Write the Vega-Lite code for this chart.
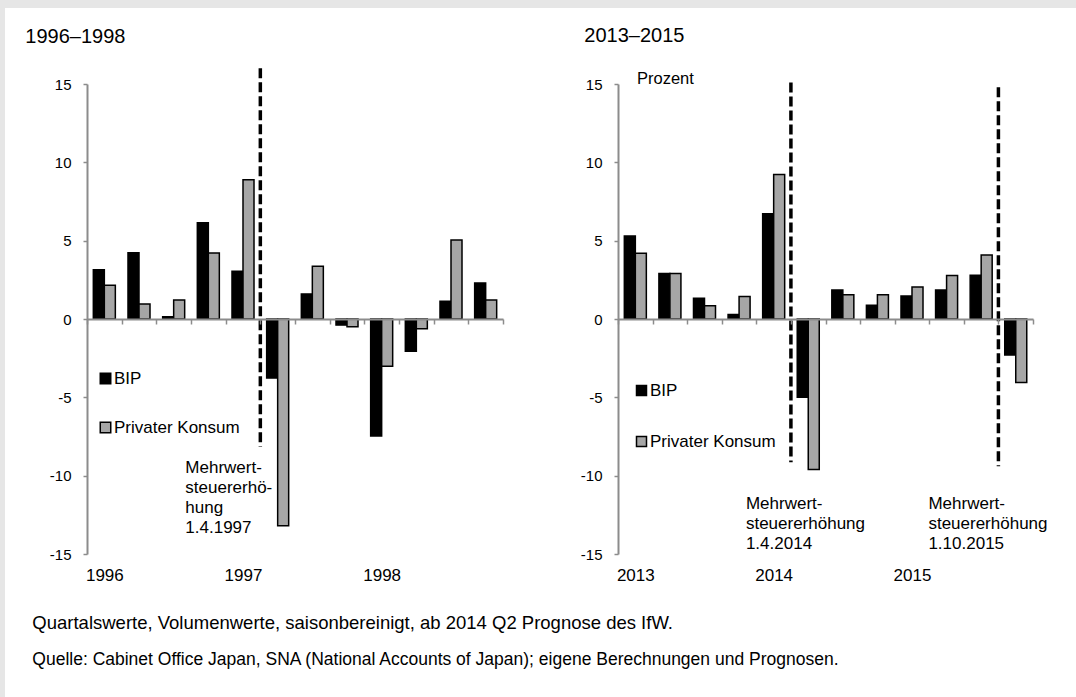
{
  "$schema": "https://vega.github.io/schema/vega-lite/v6.json",
  "padding": 0,
  "background": "#ffffff",
  "spacing": 0,
  "config": {
    "font": "Liberation Sans",
    "locale": {"number": {"decimal": ".", "thousands": ",", "grouping": [3], "currency": ["$", ""], "minus": "-"}},
    "view": {"stroke": null},
    "axis": {"grid": false, "title": null, "labelColor": "#000000", "labelFont": "Liberation Sans"},
    "title": {"color": "#000000", "fontWeight": "normal", "font": "Liberation Sans"},
    "text": {"color": "#000000"},
    "legend": {"labelColor": "#000000", "labelFont": "Liberation Sans"}
  },
  "datasets": {
    "bars96": [
      {"q": "1996 Q1", "s": "BIP", "v": 3.15}, {"q": "1996 Q1", "s": "Privater Konsum", "v": 2.15},
      {"q": "1996 Q2", "s": "BIP", "v": 4.23}, {"q": "1996 Q2", "s": "Privater Konsum", "v": 0.96},
      {"q": "1996 Q3", "s": "BIP", "v": 0.15}, {"q": "1996 Q3", "s": "Privater Konsum", "v": 1.21},
      {"q": "1996 Q4", "s": "BIP", "v": 6.15}, {"q": "1996 Q4", "s": "Privater Konsum", "v": 4.21},
      {"q": "1997 Q1", "s": "BIP", "v": 3.04}, {"q": "1997 Q1", "s": "Privater Konsum", "v": 8.89},
      {"q": "1997 Q2", "s": "BIP", "v": -3.77}, {"q": "1997 Q2", "s": "Privater Konsum", "v": -13.2},
      {"q": "1997 Q3", "s": "BIP", "v": 1.6}, {"q": "1997 Q3", "s": "Privater Konsum", "v": 3.36},
      {"q": "1997 Q4", "s": "BIP", "v": -0.39}, {"q": "1997 Q4", "s": "Privater Konsum", "v": -0.5},
      {"q": "1998 Q1", "s": "BIP", "v": -7.47}, {"q": "1998 Q1", "s": "Privater Konsum", "v": -3.02},
      {"q": "1998 Q2", "s": "BIP", "v": -2.06}, {"q": "1998 Q2", "s": "Privater Konsum", "v": -0.62},
      {"q": "1998 Q3", "s": "BIP", "v": 1.13}, {"q": "1998 Q3", "s": "Privater Konsum", "v": 5.04},
      {"q": "1998 Q4", "s": "BIP", "v": 2.3}, {"q": "1998 Q4", "s": "Privater Konsum", "v": 1.21}
    ],
    "bars13": [
      {"q": "2013 Q1", "s": "BIP", "v": 5.3}, {"q": "2013 Q1", "s": "Privater Konsum", "v": 4.2},
      {"q": "2013 Q2", "s": "BIP", "v": 2.9}, {"q": "2013 Q2", "s": "Privater Konsum", "v": 2.9},
      {"q": "2013 Q3", "s": "BIP", "v": 1.33}, {"q": "2013 Q3", "s": "Privater Konsum", "v": 0.85},
      {"q": "2013 Q4", "s": "BIP", "v": 0.28}, {"q": "2013 Q4", "s": "Privater Konsum", "v": 1.44},
      {"q": "2014 Q1", "s": "BIP", "v": 6.72}, {"q": "2014 Q1", "s": "Privater Konsum", "v": 9.22},
      {"q": "2014 Q2", "s": "BIP", "v": -5.0}, {"q": "2014 Q2", "s": "Privater Konsum", "v": -9.6},
      {"q": "2014 Q3", "s": "BIP", "v": 1.85}, {"q": "2014 Q3", "s": "Privater Konsum", "v": 1.55},
      {"q": "2014 Q4", "s": "BIP", "v": 0.87}, {"q": "2014 Q4", "s": "Privater Konsum", "v": 1.55},
      {"q": "2015 Q1", "s": "BIP", "v": 1.47}, {"q": "2015 Q1", "s": "Privater Konsum", "v": 2.04},
      {"q": "2015 Q2", "s": "BIP", "v": 1.85}, {"q": "2015 Q2", "s": "Privater Konsum", "v": 2.77},
      {"q": "2015 Q3", "s": "BIP", "v": 2.79}, {"q": "2015 Q3", "s": "Privater Konsum", "v": 4.08},
      {"q": "2015 Q4", "s": "BIP", "v": -2.3}, {"q": "2015 Q4", "s": "Privater Konsum", "v": -4.06}
    ],
    "vat96": [{"q": "1997 Q2", "top": 16, "bottom": -8.15}],
    "vat13": [{"q": "2014 Q2", "top": 15.1, "bottom": -9.15}, {"q": "2015 Q4", "top": 14.8, "bottom": -9.4}],
    "note96": [{"q": "1997 Q2", "label": ["Mehrwert-", "steuererhö-", "hung", "1.4.1997"]}],
    "note14": [{"q": "2014 Q2", "label": ["Mehrwert-", "steuererhöhung", "1.4.2014"]}],
    "note15": [{"q": "2015 Q4", "label": ["Mehrwert-", "steuererhöhung", "1.10.2015"]}],
    "unit13": [{"q": "2013 Q1", "label": "Prozent"}],
    "blank": [{}]
  },
  "vconcat": [
    {
      "width": 1076, "height": 8,
      "view": {"fill": "#e6e6e6", "stroke": null},
      "data": {"name": "blank"},
      "mark": {"type": "point", "opacity": 0, "size": 0},
      "encoding": {}
    },
    {
      "spacing": 20,
      "hconcat": [
        {
          "width": 5, "height": 689,
          "view": {"fill": "#e6e6e6", "stroke": null},
          "data": {"name": "blank"},
          "mark": {"type": "point", "opacity": 0, "size": 0},
          "encoding": {}
        },
        {
          "spacing": 17,
          "vconcat": [
            {
              "width": 1, "height": 1,
              "data": {"name": "blank"},
              "mark": {"type": "point", "opacity": 0, "size": 0},
              "encoding": {}
            },
            {
              "spacing": 76,
              "resolve": {"legend": {"color": "independent"}},
              "title": {
                "text": "Quartalswerte, Volumenwerte, saisonbereinigt, ab 2014 Q2 Prognose des IfW.",
                "subtitle": "Quelle: Cabinet Office Japan, SNA (National Accounts of Japan); eigene Berechnungen und Prognosen.",
                "orient": "bottom", "anchor": "start", "frame": "bounds",
                "dx": 7, "offset": 31,
                "fontSize": 18.5, "fontWeight": "normal", "color": "#000000",
                "subtitleFontSize": 17.5, "subtitleColor": "#000000", "subtitleFont": "Liberation Sans",
                "subtitlePadding": 18
              },
              "hconcat": [
                {
                  "width": 416, "height": 470,
                  "title": {"text": "1996–1998", "anchor": "start", "frame": "bounds", "dx": -24, "fontSize": 20, "offset": 20},
                  "layer": [
                    {
                      "data": {"name": "bars96"},
                      "mark": {"type": "bar", "stroke": "#000000", "strokeWidth": 1.5},
                      "encoding": {
                        "x": {
                          "field": "q", "type": "nominal",
                          "scale": {"domain": ["1996 Q1","1996 Q2","1996 Q3","1996 Q4","1997 Q1","1997 Q2","1997 Q3","1997 Q4","1998 Q1","1998 Q2","1998 Q3","1998 Q4"], "paddingInner": 0, "paddingOuter": 0},
                          "axis": {
                            "orient": "bottom", "offset": -235, "zindex": 1, "tickBand": "extent",
                            "domainColor": "#8c8c8c", "domainWidth": 2, "tickColor": "#8c8c8c", "tickWidth": 1.5, "tickSize": 5,
                            "labelAngle": 0, "labelPadding": 243, "labelFontSize": 17, "labelOverlap": false,
                            "labelExpr": "indexof(datum.label, 'Q1') > 0 ? slice(datum.label, 0, 4) : ''", "title": null
                          }
                        },
                        "xOffset": {"field": "s", "type": "nominal", "scale": {"domain": ["BIP", "Privater Konsum"], "paddingInner": 0, "paddingOuter": 0.575}},
                        "y": {
                          "field": "v", "type": "quantitative",
                          "scale": {"domain": [-15, 15], "nice": false},
                          "axis": {
                            "values": [-15, -10, -5, 0, 5, 10, 15], "domainColor": "#8c8c8c", "domainWidth": 2,
                            "tickColor": "#8c8c8c", "tickWidth": 1.5, "tickSize": 4, "labelPadding": 12, "labelFontSize": 15,
                            "title": null
                          }
                        },
                        "color": {
                          "field": "s", "type": "nominal",
                          "scale": {"domain": ["BIP", "Privater Konsum"], "range": ["#000000", "#a6a6a6"]},
                          "legend": {
                            "title": null, "orient": "none", "legendX": 10, "legendY": 286,
                            "symbolType": "square", "symbolSize": 110, "symbolStrokeColor": "#000000", "symbolStrokeWidth": 1.5,
                            "labelFontSize": 17, "labelOffset": 0, "rowPadding": 31
                          }
                        }
                      }
                    },
                    {
                      "data": {"name": "vat96"},
                      "mark": {"type": "rule", "strokeDash": [10, 4], "strokeWidth": 3.5, "color": "#000000"},
                      "encoding": {
                        "x": {"field": "q", "type": "nominal", "bandPosition": 0},
                        "y": {"field": "top", "type": "quantitative"},
                        "y2": {"field": "bottom"}
                      }
                    },
                    {
                      "data": {"name": "note96"},
                      "mark": {"type": "text", "align": "left", "baseline": "top", "fontSize": 17, "lineHeight": 20, "dx": -75},
                      "encoding": {
                        "x": {"field": "q", "type": "nominal", "bandPosition": 0},
                        "y": {"datum": -9},
                        "text": {"field": "label"}
                      }
                    }
                  ]
                },
                {
                  "width": 415, "height": 470,
                  "title": {"text": "2013–2015", "anchor": "start", "frame": "bounds", "dx": 4, "fontSize": 20, "offset": 25},
                  "layer": [
                    {
                      "data": {"name": "bars13"},
                      "mark": {"type": "bar", "stroke": "#000000", "strokeWidth": 1.5},
                      "encoding": {
                        "x": {
                          "field": "q", "type": "nominal",
                          "scale": {"domain": ["2013 Q1","2013 Q2","2013 Q3","2013 Q4","2014 Q1","2014 Q2","2014 Q3","2014 Q4","2015 Q1","2015 Q2","2015 Q3","2015 Q4"], "paddingInner": 0, "paddingOuter": 0},
                          "axis": {
                            "orient": "bottom", "offset": -235, "zindex": 1, "tickBand": "extent",
                            "domainColor": "#8c8c8c", "domainWidth": 2, "tickColor": "#8c8c8c", "tickWidth": 1.5, "tickSize": 5,
                            "labelAngle": 0, "labelPadding": 243, "labelFontSize": 17, "labelOverlap": false,
                            "labelExpr": "indexof(datum.label, 'Q1') > 0 ? slice(datum.label, 0, 4) : ''", "title": null
                          }
                        },
                        "xOffset": {"field": "s", "type": "nominal", "scale": {"domain": ["BIP", "Privater Konsum"], "paddingInner": 0, "paddingOuter": 0.575}},
                        "y": {
                          "field": "v", "type": "quantitative",
                          "scale": {"domain": [-15, 15], "nice": false},
                          "axis": {
                            "values": [-15, -10, -5, 0, 5, 10, 15], "domainColor": "#8c8c8c", "domainWidth": 2,
                            "tickColor": "#8c8c8c", "tickWidth": 1.5, "tickSize": 4, "labelPadding": 12, "labelFontSize": 15,
                            "title": null
                          }
                        },
                        "color": {
                          "field": "s", "type": "nominal",
                          "scale": {"domain": ["BIP", "Privater Konsum"], "range": ["#000000", "#a6a6a6"]},
                          "legend": {
                            "title": null, "orient": "none", "legendX": 15, "legendY": 298,
                            "symbolType": "square", "symbolSize": 100, "symbolStrokeColor": "#000000", "symbolStrokeWidth": 1.5,
                            "labelFontSize": 17, "labelOffset": 0, "rowPadding": 33
                          }
                        }
                      }
                    },
                    {
                      "data": {"name": "vat13"},
                      "mark": {"type": "rule", "strokeDash": [10, 4], "strokeWidth": 3.5, "color": "#000000"},
                      "encoding": {
                        "x": {"field": "q", "type": "nominal", "bandPosition": 0},
                        "y": {"field": "top", "type": "quantitative"},
                        "y2": {"field": "bottom"}
                      }
                    },
                    {
                      "data": {"name": "note14"},
                      "mark": {"type": "text", "align": "left", "baseline": "top", "fontSize": 17, "lineHeight": 20, "dx": -45},
                      "encoding": {
                        "x": {"field": "q", "type": "nominal", "bandPosition": 0},
                        "y": {"datum": -11.3},
                        "text": {"field": "label"}
                      }
                    },
                    {
                      "data": {"name": "note15"},
                      "mark": {"type": "text", "align": "left", "baseline": "top", "fontSize": 17, "lineHeight": 20, "dx": -70},
                      "encoding": {
                        "x": {"field": "q", "type": "nominal", "bandPosition": 0},
                        "y": {"datum": -11.3},
                        "text": {"field": "label"}
                      }
                    },
                    {
                      "data": {"name": "unit13"},
                      "mark": {"type": "text", "align": "left", "baseline": "alphabetic", "fontSize": 16.5, "dx": 19},
                      "encoding": {
                        "x": {"field": "q", "type": "nominal", "bandPosition": 0},
                        "y": {"datum": 15},
                        "text": {"field": "label"}
                      }
                    }
                  ]
                }
              ]
            }
          ]
        }
      ]
    }
  ]
}
